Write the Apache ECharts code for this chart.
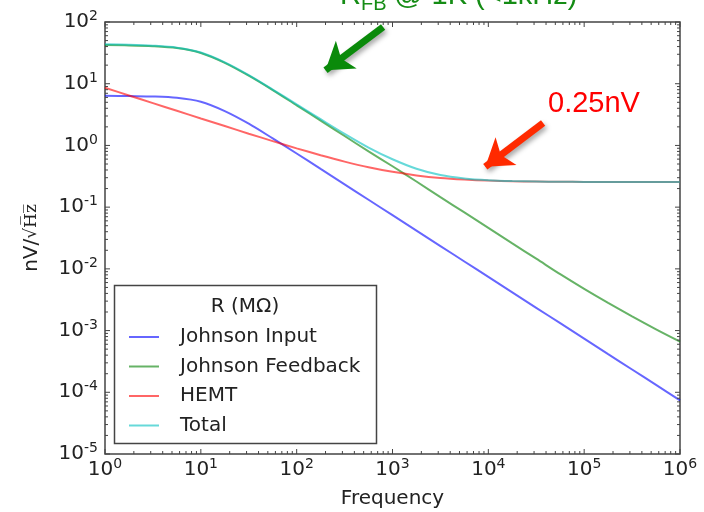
<!DOCTYPE html>
<html>
<head>
<meta charset="utf-8">
<script src="https://cdn.jsdelivr.net/npm/echarts@6/dist/echarts.min.js"></script>
<style>
html, body { margin: 0; padding: 0; background: #fff; }
#chart { width: 704px; height: 512px; }
</style>
</head>
<body>
<div id="chart"></div>
<script>
// frequency samples (Hz), quarter decade apart
var freqs = [1, 1.778, 3.162, 5.623, 10, 17.78, 31.62, 56.23, 100, 177.8, 316.2, 562.3,
	1000, 1778, 3162, 5623, 10000, 17780, 31620, 56230, 100000, 177800, 316200, 562300, 1000000];

// noise, nV/rtHz
var johnsonInput = [6.4, 6.3, 6.2, 5.9, 5.1, 3.6, 2.25, 1.3, 0.74, 0.416, 0.234, 0.1316,
	0.074, 0.0416, 0.0234, 0.01316, 0.0074, 0.00416, 0.00234, 0.001316, 0.00074, 0.000416, 0.000234, 0.0001316, 0.000074];
var johnsonFeedback = [42.2, 41.8, 40.6, 37.8, 31.5, 21.8, 13.5, 7.9, 4.47, 2.53, 1.42, 0.8,
	0.46, 0.26, 0.145, 0.082, 0.046, 0.0258, 0.0146, 0.0082, 0.00474, 0.00281, 0.0017, 0.00105, 0.000664];
var hemt = [8.6, 6.45, 4.84, 3.64, 2.73, 2.06, 1.55, 1.175, 0.897, 0.694, 0.547, 0.443,
	0.373, 0.327, 0.297, 0.28, 0.269, 0.263, 0.26, 0.2575, 0.2564, 0.2558, 0.2555, 0.2553, 0.2551];
var total = [43.5, 42.8, 41.3, 38.4, 32.0, 22.2, 13.8, 8.05, 4.62, 2.66, 1.54, 0.924,
	0.597, 0.419, 0.331, 0.292, 0.273, 0.264, 0.26, 0.2576, 0.2565, 0.2558, 0.2555, 0.2553, 0.2551];

var seriesNames = ['Johnson Input', 'Johnson Feedback', 'HEMT', 'Total'];
var seriesColors = ['rgba(0,0,255,0.6)', 'rgba(0,128,0,0.6)', 'rgba(255,0,0,0.6)', 'rgba(0,191,191,0.6)'];

// annotation arrows: [from, to] in (Hz, nV)
var greenArrow = [[798, 83], [200, 16.5]];
var redArrow = [[37300, 2.31], [9300, 0.45]];

// tick positions for the log axes
var majorX = [1, 10, 100, 1000, 10000, 100000, 1000000];
var majorY = [1e-5, 1e-4, 1e-3, 1e-2, 0.1, 1, 10, 100];
var minorX = [], minorY = [];
for (var i1 = 0; i1 < 6; i1++) for (var m = 2; m <= 9; m++) minorX.push(m * Math.pow(10, i1));
for (var i2 = -5; i2 < 2; i2++) for (var m2 = 2; m2 <= 9; m2++) minorY.push(m2 * Math.pow(10, i2));

var FONT = 'DejaVu Sans';
var INK = '#222';
var FRAME = '#444';

function powLabel(v) {
	var p = Math.round(Math.log10(v));
	return '{b|10}{s|' + p + '}';
}
var labelRich = {
	b: { fontSize: 20, fontFamily: FONT, color: INK, lineHeight: 20, verticalAlign: 'bottom' },
	s: { fontSize: 14, fontFamily: FONT, color: INK, lineHeight: 14, padding: [0, 0, 11, 0] }
};

function pair(vals) {
	return freqs.map(function (f, i) { return [f, vals[i]]; });
}

var lineData = [johnsonInput, johnsonFeedback, hemt, total];
var series = lineData.map(function (vals, i) {
	return {
		name: seriesNames[i],
		type: 'line',
		data: pair(vals),
		showSymbol: false,
		symbol: 'none',
		smooth: 0.3,
		color: seriesColors[i],
		lineStyle: { width: 2, color: seriesColors[i] },
		emphasis: { disabled: true },
		silent: true
	};
});

var arrowShadow = { shadowBlur: 5, shadowColor: 'rgba(0,0,0,0.35)', shadowOffsetX: 2, shadowOffsetY: 3 };
// arrows hang on the feedback series
series[1].markLine = {
	silent: true,
	animation: false,
	symbol: ['none', 'arrow'],
	symbolSize: 26,
	label: { show: false },
	emphasis: { disabled: true },
	data: [
		[{ coord: greenArrow[0], lineStyle: Object.assign({ color: '#0a8a0a', width: 7, type: 'solid' }, arrowShadow),
		   itemStyle: { color: '#0a8a0a' } },
		 { coord: greenArrow[1] }],
		[{ coord: redArrow[0], lineStyle: Object.assign({ color: '#ff2a00', width: 7, type: 'solid' }, arrowShadow),
		   itemStyle: { color: '#ff2a00' } },
		 { coord: redArrow[1] }]
	]
};

var staticGraphic = [
	// legend frame and title
	{ type: 'rect', shape: { x: 114.5, y: 285.5, width: 262, height: 158 },
	  style: { fill: 'none', stroke: FRAME, lineWidth: 1.5 }, z: 10 },
	{ type: 'text', x: 245, y: 307, z: 10,
	  style: { text: 'R (MΩ)', fontFamily: FONT, fontSize: 20, fill: INK, align: 'center', verticalAlign: 'middle' } },
	// annotations
	{ type: 'text', x: 548, y: 104, z: 10,
	  style: { text: '0.25nV', fontFamily: 'Liberation Sans', fontSize: 29, fill: '#ff0000', align: 'left', verticalAlign: 'middle' } },
	{ type: 'text', x: 340, y: -4, z: 10,
	  style: { text: 'R', fontFamily: 'Liberation Sans', fontSize: 29, fill: '#158c15', align: 'left', verticalAlign: 'middle' } },
	{ type: 'text', x: 361, y: 4, z: 10,
	  style: { text: 'FB', fontFamily: 'Liberation Sans', fontSize: 20, fill: '#158c15', align: 'left', verticalAlign: 'middle' } },
	{ type: 'text', x: 386, y: -4, z: 10,
	  style: { text: ' @ 1K (<1kHz)', fontFamily: 'Liberation Sans', fontSize: 29, fill: '#158c15', align: 'left', verticalAlign: 'middle' } }
];

var chart = echarts.init(document.getElementById('chart'), null, { renderer: 'canvas' });
chart.setOption({
	animation: false,
	backgroundColor: '#fff',
	grid: {
		left: 105, right: 24, top: 22, bottom: 58,
		show: true, borderColor: FRAME, borderWidth: 1.5, backgroundColor: 'transparent',
		outerBoundsMode: 'none'
	},
	legend: {
		data: seriesNames.map(function (n) { return { name: n, icon: 'rect' }; }),
		orient: 'vertical',
		left: 129, top: 326,
		padding: 0,
		itemWidth: 30, itemHeight: 2,
		itemGap: 7.5,
		selectedMode: false,
		textStyle: { fontFamily: FONT, fontSize: 20, color: INK, lineHeight: 22, padding: [0, 0, 0, 16] }
	},
	xAxis: {
		type: 'log', logBase: 10, min: 1, max: 1e6,
		name: 'Frequency', nameLocation: 'middle', nameGap: 35,
		nameTextStyle: { fontFamily: FONT, fontSize: 20, color: INK },
		axisLine: { show: false },
		axisTick: { show: false },
		axisLabel: { margin: 6, formatter: powLabel, rich: labelRich },
		splitLine: { show: false }
	},
	yAxis: {
		type: 'log', logBase: 10, min: 1e-5, max: 100,
		name: 'nV/{r|√H̅z̅}', nameLocation: 'middle', nameGap: 63, nameRotate: 90,
		nameMoveOverlap: false,
		nameTextStyle: { fontFamily: FONT, fontSize: 20, color: INK,
			rich: { r: { fontFamily: 'DejaVu Serif', fontSize: 17, color: INK } } },
		axisLine: { show: false },
		axisTick: { show: false },
		axisLabel: { margin: 7, formatter: powLabel, rich: labelRich },
		splitLine: { show: false }
	},
	graphic: staticGraphic,
	series: series
});

// inward ticks on all four sides, placed through the axes' own scales
function tickBar(x, y, w, h) {
	return { type: 'rect', z: 20, shape: { x: x, y: y, width: w, height: h }, style: { fill: FRAME } };
}
var ticks = [];
var finder = { xAxisIndex: 0, yAxisIndex: 0 };
function addX(vals, len) {
	vals.forEach(function (v) {
		var b = chart.convertToPixel(finder, [v, 1e-5]);
		var t = chart.convertToPixel(finder, [v, 100]);
		ticks.push(tickBar(b[0] - 0.5, b[1] - len, 1, len));
		ticks.push(tickBar(t[0] - 0.5, t[1], 1, len));
	});
}
function addY(vals, len) {
	vals.forEach(function (v) {
		var l = chart.convertToPixel(finder, [1, v]);
		var r = chart.convertToPixel(finder, [1e6, v]);
		ticks.push(tickBar(l[0], l[1] - 0.5, len, 1));
		ticks.push(tickBar(r[0] - len, r[1] - 0.5, len, 1));
	});
}
addX(majorX, 5);
addX(minorX, 3);
addY(majorY, 5);
addY(minorY, 3);
chart.setOption({ graphic: staticGraphic.concat(ticks) });
</script>
</body>
</html>
